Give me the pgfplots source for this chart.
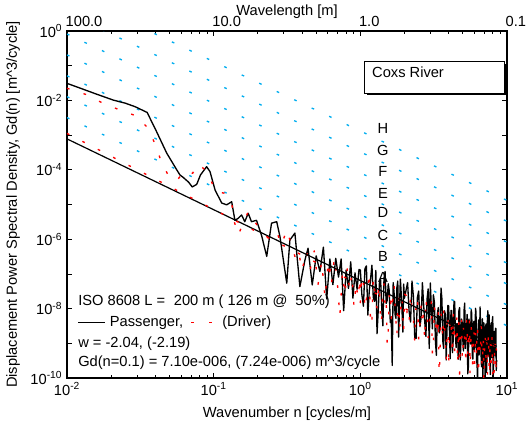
\documentclass[border=0pt]{standalone}
\usepackage{fontspec}
\setmainfont{Liberation Sans}
\usepackage{pgfplots}
\pgfplotsset{compat=1.18}

\newcommand{\fs}{\fontsize{11}{13}\selectfont}

\begin{document}
\begin{tikzpicture}[font=\fs]
\begin{axis}[name=ax,
  scale only axis, width=330pt, height=260.25pt,
  xmode=log, ymode=log,
  xmin=0.01, xmax=10, ymin=1e-10, ymax=1,
  axis line style={line width=1.1pt},
  tick align=inside,
  major tick length=3.75pt, minor tick length=2.25pt,
  every tick/.style={black, line width=0.6pt},
  xtick={0.01,0.1,1,10},
  xticklabels={10\textsuperscript{-2},10\textsuperscript{-1},10\textsuperscript{0},10\textsuperscript{1}},
  ytick={1e-10,1e-9,1e-8,1e-7,1e-6,1e-5,1e-4,1e-3,1e-2,1e-1,1},
  yticklabels={10\textsuperscript{-10},,10\textsuperscript{-8},,10\textsuperscript{-6},,10\textsuperscript{-4},,10\textsuperscript{-2},,10\textsuperscript{0}},
  yminorticks=false,
  xticklabel pos=lower, yticklabel pos=left,
  tick label style={font=\fs},
  label style={font=\fs},
  xlabel={Wavenumber n [cycles/m]},
  xlabel style={at={([yshift=-29.25pt]axis description cs:0.5,0)}, anchor=base},
  ylabel={Displacement Power Spectral Density, Gd(n) [m\textasciicircum 3/cycle]},
  ylabel style={at={([xshift=-37.5pt]axis description cs:0,0.5)}, anchor=base},
]
% ISO 8608 class boundaries (A/B ... G/H)
\addplot[cyan, line width=1pt, dash pattern=on 2pt off 12.5pt] coordinates {(0.01,3.2e-3) (10,3.2e-9)};
\addplot[cyan, line width=1pt, dash pattern=on 2pt off 12.5pt] coordinates {(0.01,1.28e-2) (10,1.28e-8)};
\addplot[cyan, line width=1pt, dash pattern=on 2pt off 12.5pt] coordinates {(0.01,5.12e-2) (10,5.12e-8)};
\addplot[cyan, line width=1pt, dash pattern=on 2pt off 12.5pt] coordinates {(0.01,0.2048) (10,2.048e-7)};
\addplot[cyan, line width=1pt, dash pattern=on 2pt off 12.5pt] coordinates {(0.01,0.8192) (10,8.192e-7)};
\addplot[cyan, line width=1pt, dash pattern=on 2pt off 12.5pt] coordinates {(0.01,3.2768) (10,3.2768e-6)};
\addplot[cyan, line width=1pt, dash pattern=on 2pt off 12.5pt] coordinates {(0.01,13.1072) (10,1.31072e-5)};

% passenger
\addplot[black, line width=1pt, line join=round] coordinates {
(0.01,3.1e-2) (0.0125,2.2e-2) (0.016,1.5e-2) (0.0207,1.02e-2) (0.025,8.3e-3) (0.0291,6.6e-3)
(0.0352,4.5e-3) (0.0408,1.26e-3) (0.0479,3.0e-4) (0.056,1.0e-4) (0.0589,7.1e-5) (0.0621,6.0e-5)
(0.0675,4.4e-5) (0.0714,3.2e-5) (0.0766,3.8e-5) (0.0813,7.1e-5) (0.0895,1.23e-4) (0.0944,8.9e-5)
(0.1023,2.6e-5) (0.1135,1.1e-5) (0.1227,9.8e-6) (0.1327,1.2e-5) (0.1396,3.5e-6) (0.147,4.0e-6)
(0.155,5.0e-6) (0.163,3.2e-6) (0.172,5.6e-6) (0.181,3.2e-6) (0.196,3.5e-6) (0.212,1.3e-6)
(0.23,3.2e-7) (0.248,2.9e-6) (0.269,3.2e-6) (0.283,1.2e-6) (0.315,5.4e-8) (0.331,9.5e-7)
(0.358,1.5e-6) (0.387,4.3e-8) (0.419,2.5e-7)
(0.44,5.5e-7) (0.47,4.8e-8) (0.50,3.3e-7) (0.53,1.17e-7) (0.56,5.9e-7) (0.59,1.9e-8)
(0.62,2.7e-7) (0.65,4.9e-8) (0.68,2.8e-7) (0.71,8.1e-8) (0.74,2.7e-7) (0.77,8.7e-9)
(0.80,1.29e-7) (0.83,3.8e-8) (0.86,2.24e-7) (0.89,2.0e-8) (0.92,1.07e-7) (0.95,3.6e-8)
(0.98,1.35e-7)
(1.00,1.29e-7) (1.025,2.45e-8) (1.05,1.17e-8) (1.075,1.41e-7) (1.10,1.7e-7) (1.125,6.5e-9)
(1.15,3.1e-8) (1.175,7.4e-8) (1.20,1.78e-7) (1.225,2.1e-8) (1.25,1.62e-8) (1.275,1.26e-7)
(1.30,1.9e-9) (1.325,9.1e-9) (1.35,5.6e-8) (1.375,6.8e-8) (1.40,1.02e-8) (1.425,3.2e-9)
(1.45,7.6e-8) (1.475,1.17e-7) (1.50,1.41e-8) (1.525,1.74e-8) (1.55,5.2e-8) (1.575,3.2e-8)
(1.60,4.0e-9) (1.625,4.8e-9) (1.65,2.3e-10) (1.675,5.6e-8) (1.70,2.75e-8) (1.725,6.8e-9)
(1.75,5.2e-9) (1.775,4.0e-8) (1.80,6.2e-8) (1.825,1.51e-9) (1.85,1.17e-8) (1.875,7.1e-8)
(1.90,2.75e-8) (1.925,8.5e-9) (1.95,2.1e-9) (1.975,5.1e-8) (2.00,2.0e-8)
(2.1,5.6e-8) (2.15,8.5e-9) (2.2,4.1e-9) (2.25,6.2e-8) (2.3,2.3e-8) (2.35,1.41e-9)
(2.4,1.38e-9) (2.45,2.1e-8) (2.5,3.2e-8) (2.55,3.0e-9) (2.6,5.8e-9) (2.65,5.6e-8)
(2.7,1.35e-8) (2.75,4.1e-9) (2.8,1.58e-9) (2.85,1.9e-8) (2.9,3.7e-8) (2.95,7.1e-10)
(3.0,5.5e-8) (3.05,1.05e-8) (3.1,2.6e-9) (3.15,2.5e-8) (3.2,1.51e-8) (3.25,1.17e-9)
(3.3,4.5e-10) (3.35,6.9e-9) (3.4,1.07e-8) (3.45,2.0e-9) (3.5,2.5e-9) (3.55,3.9e-8)
(3.6,1.9e-8) (3.65,1.15e-9) (3.7,7.1e-10) (3.75,8.7e-9) (3.8,6.8e-9) (3.85,3.3e-10)
(3.9,2.6e-9) (3.95,1.23e-8) (4.0,1.2e-8) (4.05,2.3e-9) (4.1,3.6e-10) (4.15,8.9e-9)
(4.2,8.7e-9) (4.25,5.4e-10) (4.3,1.32e-9) (4.35,1.62e-8) (4.4,1.58e-8) (4.45,1.55e-9)
(4.5,7.6e-10) (4.55,3.7e-9) (4.6,3.6e-9) (4.65,3.5e-10) (4.7,8.7e-9) (4.75,1.07e-8)
(4.8,3.3e-10) (4.85,1.02e-9) (4.9,5.0e-9) (4.95,3.9e-9) (5.0,1.2e-9) (5.05,6.0e-10)
(5.1,9.3e-9) (5.15,1.45e-8) (5.2,7.1e-10) (5.25,1.38e-9) (5.3,3.4e-9) (5.35,6.8e-9)
(5.4,1.32e-10) (5.45,2.0e-10) (5.5,5.0e-9) (5.55,3.9e-9) (5.6,1.51e-9) (5.65,9.5e-10)
(5.7,9.3e-9) (5.75,7.2e-9) (5.8,4.5e-10) (5.85,3.5e-10) (5.9,3.5e-9) (5.95,4.3e-9)
(6.0,6.6e-10) (6.05,1.32e-9) (6.1,1.02e-8) (6.15,7.9e-9) (6.2,3.2e-10) (6.25,2.5e-10)
(6.3,7.6e-11) (6.35,2.3e-9) (6.4,4.7e-9) (6.45,4.6e-10) (6.5,8.9e-10) (6.55,1.12e-8)
(6.6,3.5e-9) (6.65,5.4e-10) (6.7,2.1e-10) (6.75,2.6e-9) (6.8,5.1e-9) (6.85,8.1e-11)
(6.9,6.3e-10) (6.95,3.9e-9) (7.0,1.95e-9) (7.05,7.6e-10) (7.1,7.4e-11) (7.15,3.0e-9)
(7.2,3.6e-9) (7.25,1.45e-10) (7.3,3.5e-10) (7.35,4.4e-9) (7.4,8.7e-9) (7.45,5.4e-10)
(7.5,4.3e-10) (7.55,6.6e-9) (7.6,2.0e-9) (7.65,2.6e-10) (7.7,1.26e-10) (7.75,1.58e-9)
(7.8,3.9e-9) (7.85,3.9e-10) (7.9,6.0e-10) (7.95,4.8e-9) (8.0,5.9e-9) (8.05,9.1e-11)
(8.1,2.3e-10) (8.15,1.78e-9) (8.2,2.2e-9) (8.25,5.5e-10) (8.3,4.4e-10) (8.35,2.7e-9)
(8.4,2.7e-9) (8.45,1.66e-10) (8.5,3.3e-10)
};

% driver
\addplot[red, line width=1pt, line join=round, dash pattern=on 2pt off 11pt] coordinates {
(0.01,2.24e-2) (0.0133,1.51e-2) (0.0172,8.7e-3) (0.0224,5.5e-3) (0.0295,3.6e-3) (0.0358,1.58e-3)
(0.0403,4.9e-4) (0.0443,1.55e-4) (0.0504,5.6e-5) (0.0562,5.0e-5) (0.0637,9.3e-5) (0.0718,7.9e-5)
(0.0785,1.48e-4) (0.0918,8.3e-5) (0.1023,2.4e-5) (0.1194,2.1e-5) (0.1327,1.2e-5) (0.1361,4.0e-6)
(0.147,1.32e-6) (0.172,6.2e-6) (0.201,2.3e-6) (0.236,1.07e-6) (0.269,1.66e-6) (0.29,6.8e-7)
(0.315,1.86e-6) (0.358,3.2e-7) (0.378,4.9e-7) (0.40,1.26e-7) (0.43,4.5e-7)
(0.455,1.32e-7) (0.485,4.6e-7) (0.515,5.0e-8) (0.545,2.24e-7) (0.575,2.0e-8) (0.605,2.24e-7)
(0.635,5.0e-8) (0.665,2.9e-7) (0.695,6.6e-8) (0.725,6.0e-9) (0.755,1.1e-7) (0.785,2.5e-8)
(0.815,1.45e-7) (0.845,3.4e-8) (0.875,1.0e-7) (0.905,1.15e-8) (0.935,5.4e-8) (0.965,2.0e-8)
(0.995,7.4e-8)
(1.0,1.48e-8) (1.025,8.9e-8) (1.05,6.6e-8) (1.075,1.0e-8) (1.1,1.9e-8) (1.125,3.6e-8)
(1.15,1.1e-7) (1.175,3.3e-9) (1.2,5.0e-9) (1.225,7.6e-8) (1.25,3.6e-8) (1.275,1.38e-8)
(1.3,1.05e-8) (1.325,3.2e-8) (1.35,4.9e-8) (1.375,3.7e-9) (1.4,5.6e-9) (1.425,4.3e-8)
(1.45,5.2e-8) (1.475,1.26e-8) (1.5,1.9e-8) (1.525,9.3e-10) (1.55,2.24e-9) (1.575,2.75e-8)
(1.6,3.3e-8) (1.625,5.1e-9) (1.65,9.8e-9) (1.675,3.8e-8) (1.7,4.7e-8) (1.725,1.12e-8)
(1.75,4.4e-9) (1.775,1.66e-9) (1.8,1.62e-8) (1.825,2.0e-8) (1.85,2.5e-9) (1.875,4.7e-9)
(1.9,1.82e-8) (1.925,2.24e-8) (1.95,5.4e-9) (1.975,2.1e-9) (2.0,2.6e-8)
(2.05,2.45e-8) (2.1,3.7e-9) (2.15,4.4e-9) (2.2,2.6e-8) (2.25,1.0e-8) (2.3,4.8e-9)
(2.35,1.15e-9) (2.4,1.38e-8) (2.45,2.1e-8) (2.5,1.26e-9) (2.55,3.8e-9) (2.6,1.45e-8)
(2.65,1.1e-8) (2.7,4.3e-9) (2.75,1.29e-9) (2.8,1.95e-8) (2.85,7.4e-9) (2.9,1.45e-9)
(2.95,3.5e-9) (3.0,6.8e-9) (3.05,1.62e-8) (3.1,4.9e-10) (3.15,1.2e-9) (3.2,1.15e-8)
(3.25,5.6e-9) (3.3,1.7e-9) (3.35,2.1e-9) (3.4,8.1e-9) (3.45,7.8e-11) (3.5,7.6e-10)
(3.55,7.4e-9) (3.6,3.5e-9) (3.65,1.38e-9) (3.7,8.5e-9) (3.75,3.2e-9) (3.8,1.0e-9)
(3.85,3.1e-10) (3.9,4.8e-9) (3.95,7.2e-9) (4.0,2.2e-10) (4.05,1.38e-9) (4.1,5.4e-9)
(4.15,4.2e-9) (4.2,1.29e-9) (4.25,4.9e-10) (4.3,7.6e-9) (4.35,3.0e-9) (4.4,5.8e-10)
(4.45,7.1e-10) (4.5,2.75e-9) (4.55,5.4e-9) (4.6,2.6e-10) (4.65,1.29e-9) (4.7,4.0e-9)
(4.75,7.8e-11) (4.8,1.2e-9) (4.85,3.0e-9) (4.9,4.6e-9) (4.95,4.5e-10) (5.0,3.5e-10)
(5.05,3.4e-9) (5.1,2.6e-9) (5.15,1.29e-9) (5.2,6.3e-10) (5.25,2.5e-10) (5.3,4.8e-9)
(5.35,2.4e-9) (5.4,4.7e-10) (5.45,5.8e-10) (5.5,1.41e-9) (5.55,4.4e-9) (5.6,1.35e-10)
(5.65,6.6e-10) (5.7,3.2e-9) (5.75,1.62e-9) (5.8,6.3e-10) (5.85,1.55e-10) (5.9,1.91e-9)
(5.95,2.3e-9) (6.0,2.3e-10) (6.05,3.6e-10) (6.1,2.24e-9) (6.15,1.1e-9) (6.2,4.4e-10)
(6.25,2.7e-9) (6.3,2.6e-9) (6.35,2.0e-10) (6.4,1.26e-10) (6.45,1.26e-9) (6.5,1.23e-9)
(6.55,4.8e-10) (6.6,5.9e-10) (6.65,3.0e-9) (6.7,2.9e-9) (6.75,2.2e-10) (6.8,2.2e-10)
(6.85,8.7e-10) (6.9,1.35e-9) (6.95,8.5e-11) (7.0,1.32e-10) (7.05,1.62e-9) (7.1,1.62e-9)
(7.15,5.0e-10) (7.2,3.9e-10) (7.25,1.23e-9) (7.3,1.91e-9) (7.35,1.17e-10) (7.4,2.3e-10)
(7.45,1.82e-9) (7.5,8.9e-10) (7.55,2.8e-10) (7.6,6.9e-11) (7.65,8.5e-10) (7.7,1.35e-9)
(7.75,1.66e-10) (7.8,2.6e-10) (7.85,2.0e-9) (7.9,1.58e-9) (7.95,3.2e-10) (8.0,1.23e-10)
(8.05,9.8e-10) (8.1,9.5e-10) (8.15,1.17e-10) (8.2,3.0e-10) (8.25,1.15e-9) (8.3,1.15e-9)
(8.35,3.5e-10) (8.4,1.41e-10) (8.45,6.9e-10) (8.5,5.5e-10)
};

% power-law fits
\addplot[black, line width=0.9pt] coordinates {(0.01,7.78e-4) (8.5,8.2e-10)};
\addplot[red, line width=1pt, dash pattern=on 2pt off 11pt] coordinates {(0.01,1.12e-3) (8.5,4.3e-10)};

% class letters
\node[inner sep=0pt] at (rel axis cs:0.718,0.720) {H};
\node[inner sep=0pt] at (rel axis cs:0.718,0.657) {G};
\node[inner sep=0pt] at (rel axis cs:0.718,0.594) {F};
\node[inner sep=0pt] at (rel axis cs:0.718,0.533) {E};
\node[inner sep=0pt] at (rel axis cs:0.718,0.476) {D};
\node[inner sep=0pt] at (rel axis cs:0.718,0.412) {C};
\node[inner sep=0pt] at (rel axis cs:0.718,0.349) {B};
\node[inner sep=0pt] at (rel axis cs:0.718,0.291) {A};

% title box
\fill[black] ([xshift=1.5pt,yshift=-1.5pt]rel axis cs:0.677,0.821) rectangle ([xshift=1.5pt,yshift=-1.5pt]rel axis cs:0.995,0.911);
\draw[fill=white, line width=0.6pt] (rel axis cs:0.677,0.821) rectangle (rel axis cs:0.995,0.911);
\node[anchor=base west, inner sep=0pt] at (rel axis cs:0.693,0.865) {Coxs River};

% summary text
\node[anchor=base west, inner sep=0pt] at (rel axis cs:0.025,0.210) {ISO 8608 L =\hspace{0.6em}200 m ( 126 m @\hspace{0.55em}50\%)};
\node[anchor=base west, inner sep=0pt] at (rel axis cs:0.025,0.147) {\rule[0.3em]{20pt}{0.7pt}\hspace{3.75pt}Passenger,\hspace{6pt}{\color{red}\rule[0.3em]{2.25pt}{0.8pt}\hspace{11.25pt}\rule[0.3em]{2.25pt}{0.8pt}}\hspace{7.5pt}(Driver)};
\node[anchor=base west, inner sep=0pt] at (rel axis cs:0.025,0.089) {w = -2.04, (-2.19)};
\node[anchor=base west, inner sep=0pt] at (rel axis cs:0.025,0.032) {Gd(n=0.1) = 7.10e-006, (7.24e-006) m\textasciicircum 3/cycle};
\end{axis}

% wavelength scale on top
\begin{axis}[
  scale only axis, width=330pt, height=260.25pt,
  xmode=log, xmin=0.01, xmax=10, ymin=0, ymax=1,
  hide y axis, axis x line*=top,
  axis line style={draw=none},
  xtick={0.01,0.1,1,10},
  xticklabels={100.0,10.0,1.0,0.1},
  major tick length=0pt, xminorticks=false,
  tick label style={font=\fs},
  xticklabel style={anchor=south west, xshift=-4.5pt},
  label style={font=\fs},
  xlabel={Wavelength [m]},
  xlabel style={at={([yshift=11.25pt]axis description cs:0.5,1)}, anchor=base},
]
\end{axis}

\pgfresetboundingbox
\path ([xshift=-50.25pt,yshift=-34.5pt]ax.south west) rectangle ([xshift=14.25pt,yshift=23.25pt]ax.north east);
\end{tikzpicture}
\end{document}
